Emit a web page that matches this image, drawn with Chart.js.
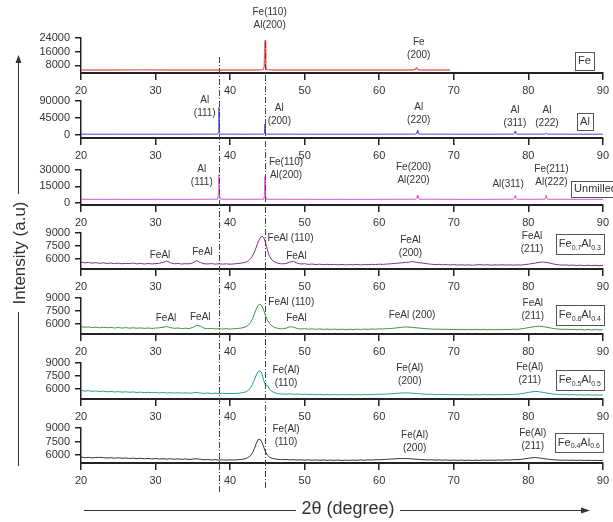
<!DOCTYPE html>
<html>
<head>
<meta charset="utf-8">
<script src="https://cdn.jsdelivr.net/npm/chart.js@4.4.1/dist/chart.umd.min.js"></script>
<style>
  body { margin: 0; background: #fff; }
  #wrap { position: relative; width: 613px; height: 522px; overflow: hidden; }
  #wrap canvas { position: absolute; left: 0; }
  #overlay { top: 0; pointer-events: none; }
</style>
</head>
<body>
<div id="wrap"><canvas id="overlay" width="613" height="522"></canvas></div>
<script>
// XRD patterns, 2-theta 20..90 deg, stacked panels (top to bottom)
const thetaTicks = [20, 30, 40, 50, 60, 70, 80, 90];

// pure Fe (red) - trace stops near 69.5
const feTheta  = [20, 24, 28, 32, 36, 40, 43.6, 44.4, 44.58, 44.68, 44.78, 44.95, 45.8, 50, 55, 60, 64.5, 64.85, 65.0, 65.15, 65.5, 69.5];
const feCounts = [5300, 5280, 5310, 5290, 5300, 5290, 5300, 5450, 7200, 22800, 7200, 5450, 5300, 5290, 5300, 5280, 5300, 5600, 6600, 5600, 5300, 5290];
const feTicks  = [8000, 16000, 24000];

// pure Al (blue)
const alTheta  = [20, 25, 30, 35, 38.3, 38.44, 38.5, 38.56, 38.7, 42, 44.5, 44.62, 44.68, 44.74, 44.86, 50, 55, 60, 64.9, 65.05, 65.12, 65.2, 65.35, 70, 75, 78.0, 78.16, 78.23, 78.3, 78.45, 80, 82.25, 82.4, 82.55, 86, 90];
const alCounts = [1500, 1500, 1500, 1500, 1600, 6000, 73000, 6000, 1600, 1500, 1600, 4000, 29000, 4000, 1600, 1500, 1500, 1500, 1600, 4000, 11000, 4000, 1600, 1500, 1500, 1600, 4000, 10000, 4000, 1600, 1500, 1600, 4500, 1600, 1500, 1500];
const alTicks  = [0, 45000, 90000];

// unmilled Fe+Al mixture (magenta)
const rawTheta  = alTheta;
const rawCounts = [3100, 3100, 3100, 3100, 3200, 7000, 26000, 7000, 3200, 3100, 3200, 6500, 24000, 6500, 3200, 3100, 3100, 3100, 3200, 4500, 7000, 4500, 3200, 3100, 3100, 3200, 4200, 6400, 4200, 3200, 3100, 3200, 6800, 3200, 3100, 3100];
const rawTicks  = [0, 15000, 30000];

// milled alloys share one 2-theta grid
const alloyTheta = [
  20, 20.5, 21, 21.5, 22, 22.5, 23, 23.5, 24, 24.5, 25, 25.5, 26, 26.5, 27, 27.5, 28, 28.5, 29, 29.5,
  30, 30.5, 31, 31.5, 32, 32.5, 33, 33.5, 34, 34.5, 35, 35.5, 36, 36.5, 37, 37.5, 38, 38.5, 39, 39.5,
  40, 40.5, 41, 41.5, 42,
  42.25, 42.5, 42.75, 43, 43.25, 43.5, 43.75, 44, 44.25, 44.5, 44.75, 45, 45.25, 45.5, 45.75, 46, 46.25, 46.5, 46.75, 47,
  47.5, 48, 48.5, 49, 49.5, 50, 50.5, 51, 51.5, 52, 52.5, 53, 53.5, 54, 54.5, 55, 55.5, 56, 56.5, 57,
  57.5, 58, 58.5, 59, 59.5, 60, 60.5, 61, 61.5, 62, 62.5, 63, 63.5, 64, 64.5, 65, 65.5, 66, 66.5, 67,
  67.5, 68, 68.5, 69, 69.5, 70, 70.5, 71, 71.5, 72, 72.5, 73, 73.5, 74, 74.5, 75, 75.5, 76, 76.5, 77,
  77.5, 78, 78.5, 79, 79.5, 80, 80.5, 81, 81.5, 82, 82.5, 83, 83.5, 84, 84.5, 85, 85.5, 86, 86.5, 87,
  87.5, 88, 88.5, 89, 89.5, 90
];
const fe70Counts = [
  5650, 5560, 5600, 5520, 5580, 5500, 5560, 5480, 5540, 5460, 5520, 5450, 5500, 5470, 5530, 5440, 5490, 5420, 5480, 5430,
  5470, 5500, 5600, 5780, 5560, 5450, 5480, 5420, 5460, 5440, 5560, 5820, 5600, 5450, 5430, 5470, 5400, 5450, 5410, 5440,
  5400, 5430, 5480, 5520, 5620,
  5700, 5820, 6050, 6350, 6800, 7350, 7950, 8400, 8650, 8500, 7900, 7050, 6400, 6000, 5780, 5650, 5560, 5500, 5460, 5440,
  5480, 5650, 5720, 5520, 5420, 5450, 5380, 5420, 5360, 5400, 5350, 5390, 5340, 5380, 5330, 5370, 5320, 5360, 5330, 5370,
  5320, 5360, 5340, 5380, 5360, 5400, 5380, 5420, 5440, 5480, 5520, 5560, 5600, 5640, 5700, 5620, 5560, 5500, 5440, 5400,
  5360, 5380, 5330, 5360, 5310, 5350, 5300, 5340, 5290, 5330, 5280, 5320, 5360, 5300, 5340, 5290, 5330, 5300, 5340, 5300,
  5330, 5290, 5330, 5300, 5360, 5400, 5470, 5540, 5620, 5660, 5600, 5500, 5400, 5340, 5290, 5320, 5270, 5300, 5250, 5290,
  5240, 5280, 5230, 5270, 5220, 5250
];
const fe60Counts = [
  5700, 5620, 5660, 5580, 5640, 5560, 5620, 5570, 5600, 5540, 5590, 5530, 5580, 5520, 5560, 5510, 5550, 5500, 5540, 5490,
  5530, 5560, 5620, 5700, 5580, 5500, 5540, 5470, 5510, 5480, 5600, 5850, 5750, 5520, 5460, 5490, 5430, 5470, 5420, 5460,
  5410, 5450, 5480, 5530, 5640,
  5750, 5920, 6200, 6600, 7150, 7700, 8150, 8300, 8100, 7600, 7000, 6450, 6100, 5850, 5700, 5600, 5530, 5490, 5460, 5450,
  5520, 5680, 5640, 5480, 5420, 5460, 5400, 5440, 5390, 5430, 5380, 5420, 5370, 5410, 5360, 5400, 5350, 5390, 5360, 5400,
  5370, 5410, 5380, 5420, 5400, 5440, 5420, 5460, 5480, 5520, 5560, 5620, 5660, 5640, 5600, 5560, 5520, 5480, 5440, 5420,
  5390, 5410, 5370, 5400, 5360, 5390, 5350, 5380, 5340, 5370, 5340, 5380, 5340, 5370, 5330, 5360, 5330, 5370, 5340, 5380,
  5360, 5400, 5380, 5440, 5500, 5580, 5650, 5720, 5740, 5700, 5620, 5540, 5460, 5420, 5380, 5400, 5350, 5380, 5340, 5370,
  5330, 5360, 5320, 5350, 5310, 5340
];
const fe50Counts = [
  5850, 5760, 5800, 5730, 5780, 5700, 5750, 5680, 5720, 5660, 5700, 5640, 5680, 5620, 5660, 5600, 5640, 5580, 5620, 5570,
  5600, 5550, 5590, 5540, 5580, 5530, 5570, 5520, 5560, 5510, 5550, 5600, 5540, 5490, 5530, 5480, 5520, 5470, 5500, 5460,
  5490, 5470, 5500, 5550, 5640,
  5740, 5900, 6150, 6550, 7050, 7600, 8000, 8100, 7850, 7000, 6450, 6420, 6000, 5800, 5650, 5560, 5500, 5460, 5430, 5420,
  5400, 5440, 5390, 5420, 5370, 5400, 5350, 5390, 5340, 5380, 5330, 5370, 5330, 5370, 5320, 5360, 5330, 5370, 5320, 5360,
  5330, 5370, 5340, 5380, 5360, 5400, 5390, 5430, 5450, 5480, 5510, 5540, 5560, 5540, 5510, 5480, 5440, 5410, 5380, 5400,
  5350, 5380, 5340, 5370, 5330, 5360, 5320, 5360, 5320, 5350, 5310, 5350, 5320, 5360, 5320, 5350, 5320, 5360, 5330, 5370,
  5350, 5390, 5400, 5450, 5520, 5600, 5680, 5720, 5680, 5600, 5520, 5460, 5400, 5380, 5340, 5370, 5320, 5360, 5310, 5350,
  5300, 5340, 5290, 5330, 5290, 5320
];
const fe40Counts = [
  5780, 5700, 5740, 5680, 5720, 5740, 5700, 5660, 5700, 5640, 5690, 5640, 5670, 5610, 5650, 5590, 5640, 5580, 5620, 5560,
  5610, 5550, 5590, 5540, 5580, 5530, 5570, 5520, 5560, 5500, 5550, 5580, 5520, 5470, 5500, 5450, 5480, 5440, 5470, 5430,
  5460, 5440, 5470, 5510, 5580,
  5650, 5760, 5950, 6250, 6700, 7250, 7700, 7750, 7450, 6900, 6350, 6000, 5800, 5680, 5600, 5560, 5530, 5510, 5490, 5480,
  5500, 5460, 5490, 5440, 5470, 5430, 5460, 5420, 5450, 5410, 5450, 5410, 5440, 5400, 5440, 5400, 5430, 5400, 5440, 5410,
  5450, 5420, 5460, 5440, 5480, 5470, 5500, 5520, 5540, 5570, 5590, 5600, 5610, 5590, 5560, 5530, 5500, 5480, 5450, 5470,
  5430, 5460, 5420, 5450, 5410, 5440, 5400, 5440, 5400, 5430, 5400, 5430, 5400, 5440, 5410, 5440, 5410, 5450, 5420, 5460,
  5440, 5480, 5490, 5520, 5570, 5630, 5690, 5710, 5670, 5610, 5550, 5500, 5470, 5440, 5420, 5440, 5410, 5430, 5400, 5430,
  5390, 5420, 5390, 5410, 5380, 5400
];
const alloyTicks = [6000, 7500, 9000];

// peak labels: [2theta, intensity, line1, line2]
const feNotes  = [[45.3, 39200, 'Fe(110)', 'Al(200)'], [65.3, 21700, 'Fe', '(200)']];
const alNotes  = [[36.6, 92700, 'Al', '(111)'], [46.6, 71300, 'Al', '(200)'], [65.3, 74000, 'Al', '(220)'],
                  [78.2, 66000, 'Al', '(311)'], [82.5, 66000, 'Al', '(222)']];
const rawNotes = [[36.2, 30900, 'Al', '(111)'], [47.5, 37300, 'Fe(110)', 'Al(200)'], [64.6, 32700, 'Fe(200)', 'Al(220)'],
                  [77.3, 17200, 'Al(311)'], [83.1, 30900, 'Fe(211)', 'Al(222)']];
const fe70Notes = [[30.6, 6460, 'FeAl'], [36.3, 6800, 'FeAl'], [48.1, 8420, 'FeAl (110)'], [48.9, 6350, 'FeAl'],
                   [64.2, 8190, 'FeAl', '(200)'], [80.5, 8650, 'FeAl', '(211)']];
const fe60Notes = [[31.4, 6690, 'FeAl'], [36.0, 6810, 'FeAl'], [48.2, 8540, 'FeAl (110)'], [48.9, 6690, 'FeAl'],
                   [64.4, 7040, 'FeAl (200)'], [80.6, 8420, 'FeAl', '(211)']];
const fe50Notes = [[47.5, 8190, 'Fe(Al)', '(110)'], [64.1, 8420, 'Fe(Al)', '(200)'], [80.2, 8540, 'Fe(Al)', '(211)']];
const fe40Notes = [[47.5, 8890, 'Fe(Al)', '(110)'], [64.75, 8220, 'Fe(Al)', '(200)'], [80.6, 8440, 'Fe(Al)', '(211)']];

// sample names, [text, isSubscript]
const sampleNames = [
  [['Fe', 0]], [['Al', 0]], [['Unmilled', 0]],
  [['Fe', 0], ['0.7', 1], ['Al', 0], ['0.3', 1]],
  [['Fe', 0], ['0.6', 1], ['Al', 0], ['0.4', 1]],
  [['Fe', 0], ['0.5', 1], ['Al', 0], ['0.5', 1]],
  [['Fe', 0], ['0.4', 1], ['Al', 0], ['0.6', 1]]
];
const referenceLines = [38.5, 44.66];

const FONT = '"Liberation Sans", Arial, Helvetica, sans-serif';
const PAD_TOP = 35, X_AXIS_H = 26, Y_AXIS_W = 81;

// panels: data + layout (plot area top/bottom in page px, name box offsets)
const panels = [
  { x: feTheta, y: feCounts, ticks: feTicks, min: 3500, max: 24000, color: '#e06a6a', notes: feNotes,
    top: 38, bottom: 73, box: { dx: -9, dy: 14, h: 18 } },
  { x: alTheta, y: alCounts, ticks: alTicks, min: -8700, max: 90000, color: '#4646dc', notes: alNotes,
    top: 101, bottom: 138, box: { dx: -10, dy: 12, h: 17 } },
  { x: rawTheta, y: rawCounts, ticks: rawTicks, min: -2110, max: 30000, color: '#dc50dc', notes: rawNotes,
    top: 170, bottom: 205, box: { dx: 17, dy: 11, h: 16 } },
  { x: alloyTheta, y: fe70Counts, ticks: alloyTicks, min: 4846, max: 9000, color: '#8c2a8c', notes: fe70Notes,
    top: 233, bottom: 269, box: { dx: 1, dy: 1, h: 20 } },
  { x: alloyTheta, y: fe60Counts, ticks: alloyTicks, min: 4846, max: 9000, color: '#3b983b', notes: fe60Notes,
    top: 298, bottom: 334, box: { dx: 1, dy: 7, h: 20 } },
  { x: alloyTheta, y: fe50Counts, ticks: alloyTicks, min: 4846, max: 9000, color: '#2a9c9c', notes: fe50Notes,
    top: 363, bottom: 399, box: { dx: 1, dy: 7, h: 20 } },
  { x: alloyTheta, y: fe40Counts, ticks: alloyTicks, min: 5111, max: 9000, color: '#333333', notes: fe40Notes,
    top: 428, bottom: 463, box: { dx: 0, dy: 5, h: 19 } }
];

const labelPlugin = {
  id: 'xrdLabels',
  afterDatasetsDraw(chart, args, opts) {
    const ctx = chart.ctx, xs = chart.scales.x, ys = chart.scales.y, area = chart.chartArea;
    ctx.save();
    ctx.fillStyle = '#333';
    ctx.font = '10px ' + FONT;
    ctx.textAlign = 'center';
    ctx.textBaseline = 'middle';
    opts.notes.forEach(n => {
      const px = xs.getPixelForValue(n[0]), py = ys.getPixelForValue(n[1]);
      n.slice(2).forEach((t, i) => ctx.fillText(t, px, py + i * 13));
    });

    // boxed sample name
    const parts = opts.name, b = opts.box;
    let w = 0;
    parts.forEach(p => { ctx.font = (p[1] ? '7px ' : '11px ') + FONT; w += ctx.measureText(p[0]).width; });
    const bw = w + 6, right = area.right + b.dx, left = right - bw, top = area.top + b.dy;
    ctx.fillStyle = '#fff';
    ctx.fillRect(left, top, bw, b.h);
    ctx.strokeStyle = '#555';
    ctx.lineWidth = 1;
    ctx.strokeRect(Math.round(left) + 0.5, top + 0.5, Math.round(bw), b.h);
    ctx.fillStyle = '#333';
    ctx.textAlign = 'left';
    let cx = left + 3;
    const mid = top + b.h / 2;
    parts.forEach(p => {
      ctx.font = (p[1] ? '7px ' : '11px ') + FONT;
      ctx.fillText(p[0], cx, p[1] ? mid + 4 : mid);
      cx += ctx.measureText(p[0]).width;
    });
    ctx.restore();
  }
};

const wrap = document.getElementById('wrap');
const charts = panels.map((p, i) => {
  const cv = document.createElement('canvas');
  const h = PAD_TOP + (p.bottom - p.top) + X_AXIS_H;
  cv.width = 613;
  cv.height = h;
  cv.style.top = (p.top - PAD_TOP) + 'px';
  wrap.insertBefore(cv, document.getElementById('overlay'));

  return new Chart(cv, {
    type: 'line',
    data: {
      datasets: [{
        data: p.x.map((t, k) => ({ x: t, y: p.y[k] })),
        borderColor: p.color,
        borderWidth: i === 0 ? 1.4 : 1,
        pointRadius: 0,
        tension: 0,
        fill: false
      }]
    },
    options: {
      responsive: false,
      animation: false,
      events: [],
      layout: { padding: { top: PAD_TOP, right: 8, left: 0, bottom: 0 } },
      plugins: {
        legend: { display: false },
        tooltip: { enabled: false },
        xrdLabels: { notes: p.notes, name: sampleNames[i], box: p.box }
      },
      scales: {
        x: {
          type: 'linear', min: 20, max: 90,
          afterBuildTicks: s => { s.ticks = thetaTicks.map(v => ({ value: v })); },
          afterFit: s => { s.height = X_AXIS_H; },
          ticks: { color: '#333', font: { size: 11, family: FONT }, padding: 4, maxRotation: 0 },
          grid: { drawOnChartArea: false, tickLength: 7, color: '#222', lineWidth: 1.5 },
          border: { color: '#222', width: 2 }
        },
        y: {
          min: p.min, max: p.max,
          afterBuildTicks: s => { s.ticks = p.ticks.map(v => ({ value: v })); },
          afterFit: s => { s.width = Y_AXIS_W; },
          ticks: { color: '#333', font: { size: 11, family: FONT }, padding: 5, callback: v => String(v) },
          grid: { drawOnChartArea: false, tickLength: 6, color: '#222', lineWidth: 1.5 },
          border: { color: '#222', width: 1.5 }
        }
      }
    },
    plugins: [labelPlugin]
  });
});

// overlay: reference dash-dot lines + axis titles with arrows
(function () {
  const ctx = document.getElementById('overlay').getContext('2d');
  const xs = charts[0].scales.x;
  ctx.save();
  ctx.strokeStyle = '#444';
  ctx.lineWidth = 1;
  ctx.setLineDash([6, 2, 1, 2]);
  const spans = [[57, 493], [42, 488]];
  referenceLines.forEach((v, i) => {
    const px = Math.round(xs.getPixelForValue(v)) + 0.5;
    ctx.beginPath();
    ctx.moveTo(px, spans[i][0]);
    ctx.lineTo(px, spans[i][1]);
    ctx.stroke();
  });
  ctx.setLineDash([]);

  ctx.strokeStyle = '#333';
  ctx.fillStyle = '#333';
  ctx.lineWidth = 1;
  // y title
  ctx.beginPath();
  ctx.moveTo(18.5, 466); ctx.lineTo(18.5, 312);
  ctx.moveTo(18.5, 194); ctx.lineTo(18.5, 62);
  ctx.stroke();
  ctx.beginPath();
  ctx.moveTo(18.5, 55); ctx.lineTo(15.5, 63); ctx.lineTo(21.5, 63); ctx.closePath();
  ctx.fill();
  ctx.save();
  ctx.translate(20, 253);
  ctx.rotate(-Math.PI / 2);
  ctx.font = '17px ' + FONT;
  ctx.textAlign = 'center';
  ctx.textBaseline = 'middle';
  ctx.fillText('Intensity (a.u)', 0, 0);
  ctx.restore();

  // x title
  ctx.beginPath();
  ctx.moveTo(84, 510.5); ctx.lineTo(296, 510.5);
  ctx.moveTo(400, 510.5); ctx.lineTo(582, 510.5);
  ctx.stroke();
  ctx.beginPath();
  ctx.moveTo(590, 510.5); ctx.lineTo(581, 507.5); ctx.lineTo(581, 513.5); ctx.closePath();
  ctx.fill();
  ctx.font = '18px ' + FONT;
  ctx.textAlign = 'center';
  ctx.textBaseline = 'middle';
  ctx.fillText('2\u03B8 (degree)', 348, 509);
  ctx.restore();
})();
</script>
</body>
</html>
